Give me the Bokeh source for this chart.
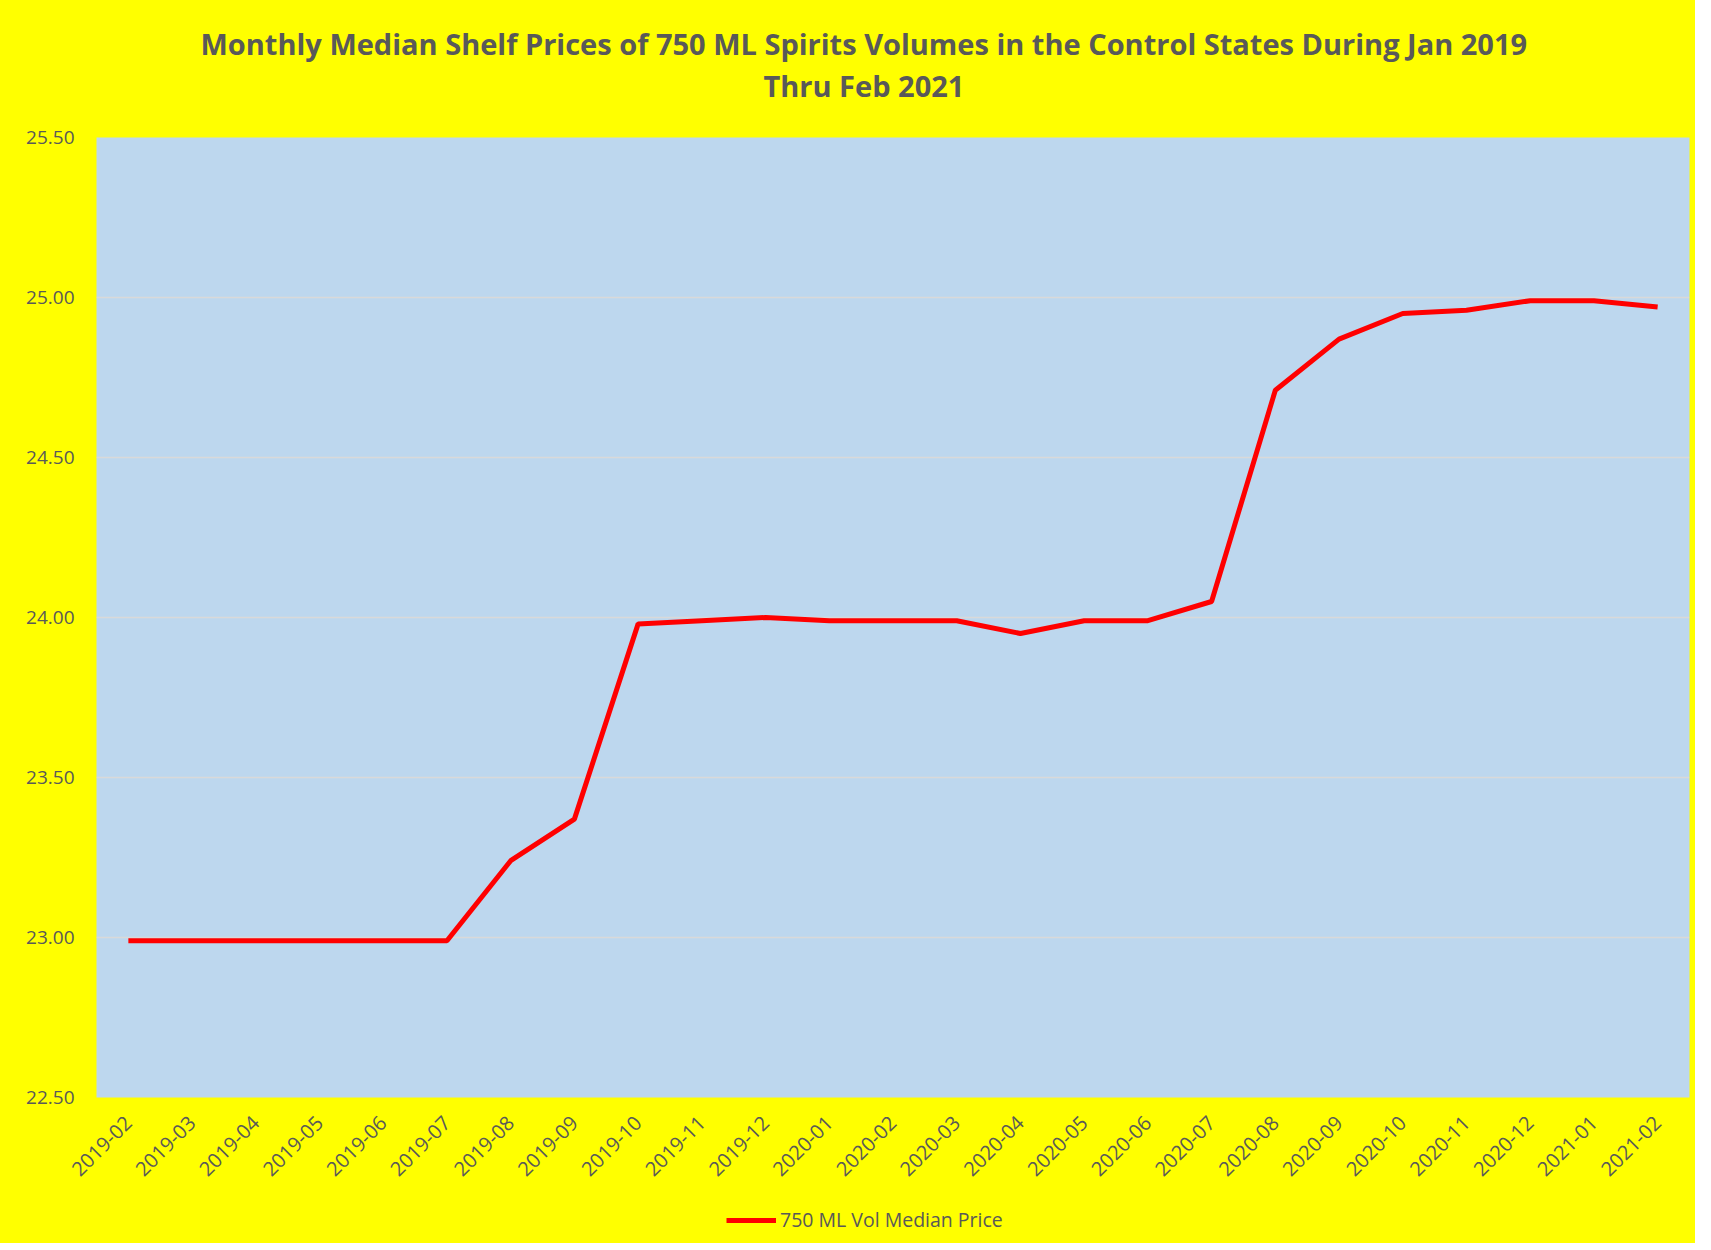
import math
from bokeh.plotting import figure
from bokeh.layouts import column
from bokeh.models import Legend, LegendItem, SingleIntervalTicker, NumeralTickFormatter, Range1d, Title
from bokeh.embed import file_html
from bokeh.resources import INLINE

months = ["2019-02", "2019-03", "2019-04", "2019-05", "2019-06", "2019-07", "2019-08",
          "2019-09", "2019-10", "2019-11", "2019-12", "2020-01", "2020-02", "2020-03",
          "2020-04", "2020-05", "2020-06", "2020-07", "2020-08", "2020-09", "2020-10",
          "2020-11", "2020-12", "2021-01", "2021-02"]
median_price = [22.99, 22.99, 22.99, 22.99, 22.99, 22.99, 23.24,
                23.37, 23.98, 23.99, 24.00, 23.99, 23.99, 23.99,
                23.95, 23.99, 23.99, 24.05, 24.71, 24.87, 24.95,
                24.96, 24.99, 24.99, 24.97]
series_name = "750 ML Vol Median Price"
title_line1 = "Monthly Median Shelf Prices of 750 ML Spirits Volumes in the Control States During Jan 2019"
title_line2 = "Thru Feb 2021"

GREY = "#595959"
YELLOW = "#FFFF00"
RED = "#FF0000"
FONT = "Open Sans"

p = figure(x_range=months, y_range=Range1d(22.5, 25.5), frame_width=1593, frame_height=960,
           output_backend="svg", toolbar_location=None,
           min_border_left=96, min_border_right=6, min_border_top=137, min_border_bottom=100)

p.background_fill_color = "#BDD7EE"
p.border_fill_color = YELLOW
p.outline_line_color = None

def style_title(t):
    t.align = "left"
    t.text_font = FONT
    t.text_font_style = "bold"
    t.text_font_size = "29px"
    t.text_color = GREY

p.title.text = title_line1
style_title(p.title)
p.title.offset = 104
p.title.standoff = 2
spacer = Title(text=" ", text_font_size="1px", standoff=30, text_color=YELLOW)
p.add_layout(spacer, "above")
t2 = Title(text=title_line2)
style_title(t2)
t2.offset = 667
t2.standoff = 0
p.add_layout(t2, "above")

r = p.line(months, median_price, line_color=RED, line_width=5)

p.yaxis.ticker = SingleIntervalTicker(interval=0.5)
p.yaxis.formatter = NumeralTickFormatter(format="0.00")
for ax in (p.xaxis[0], p.yaxis[0]):
    ax.axis_line_color = None
    ax.major_tick_line_color = None
    ax.minor_tick_line_color = None
    ax.major_tick_out = 0
    ax.major_tick_in = 0
    ax.minor_tick_out = 0
    ax.major_label_text_color = GREY
    ax.major_label_text_font = FONT
    ax.major_label_text_font_size = "19px"
p.xaxis.major_label_text_font_size = "20px"
p.yaxis.major_label_standoff = 22
p.xaxis.major_label_orientation = math.pi / 4
p.xaxis.major_label_standoff = 22

p.xgrid.grid_line_color = None
p.ygrid.grid_line_color = "#D9D9D9"
p.ygrid.grid_line_width = 1.5

# legend strip below the chart (same series, drawn out of view; only its legend shows)
lp = figure(x_range=months, y_range=Range1d(0, 1), width=1695, height=46,
            output_backend="svg", toolbar_location=None,
            min_border_left=96, min_border_right=6, min_border_top=0, min_border_bottom=0)
lp.background_fill_color = None
lp.border_fill_color = YELLOW
lp.outline_line_color = None
lp.axis.visible = False
lp.grid.grid_line_color = None
lr = lp.line(months, median_price, line_color=RED, line_width=5)

legend = Legend(items=[LegendItem(label=series_name, renderers=[lr])],
                orientation="horizontal", location=(630, 10),
                background_fill_color=YELLOW, background_fill_alpha=1,
                border_line_color=None, label_text_color=GREY,
                label_text_font=FONT, label_text_font_size="19.5px",
                glyph_width=50, glyph_height=20, label_height=20,
                label_standoff=4, padding=0, margin=0)
lp.add_layout(legend, "center")

layout = column(p, lp, spacing=0, styles={"background-color": YELLOW})
open("out.html", "w").write(file_html(layout, INLINE))
